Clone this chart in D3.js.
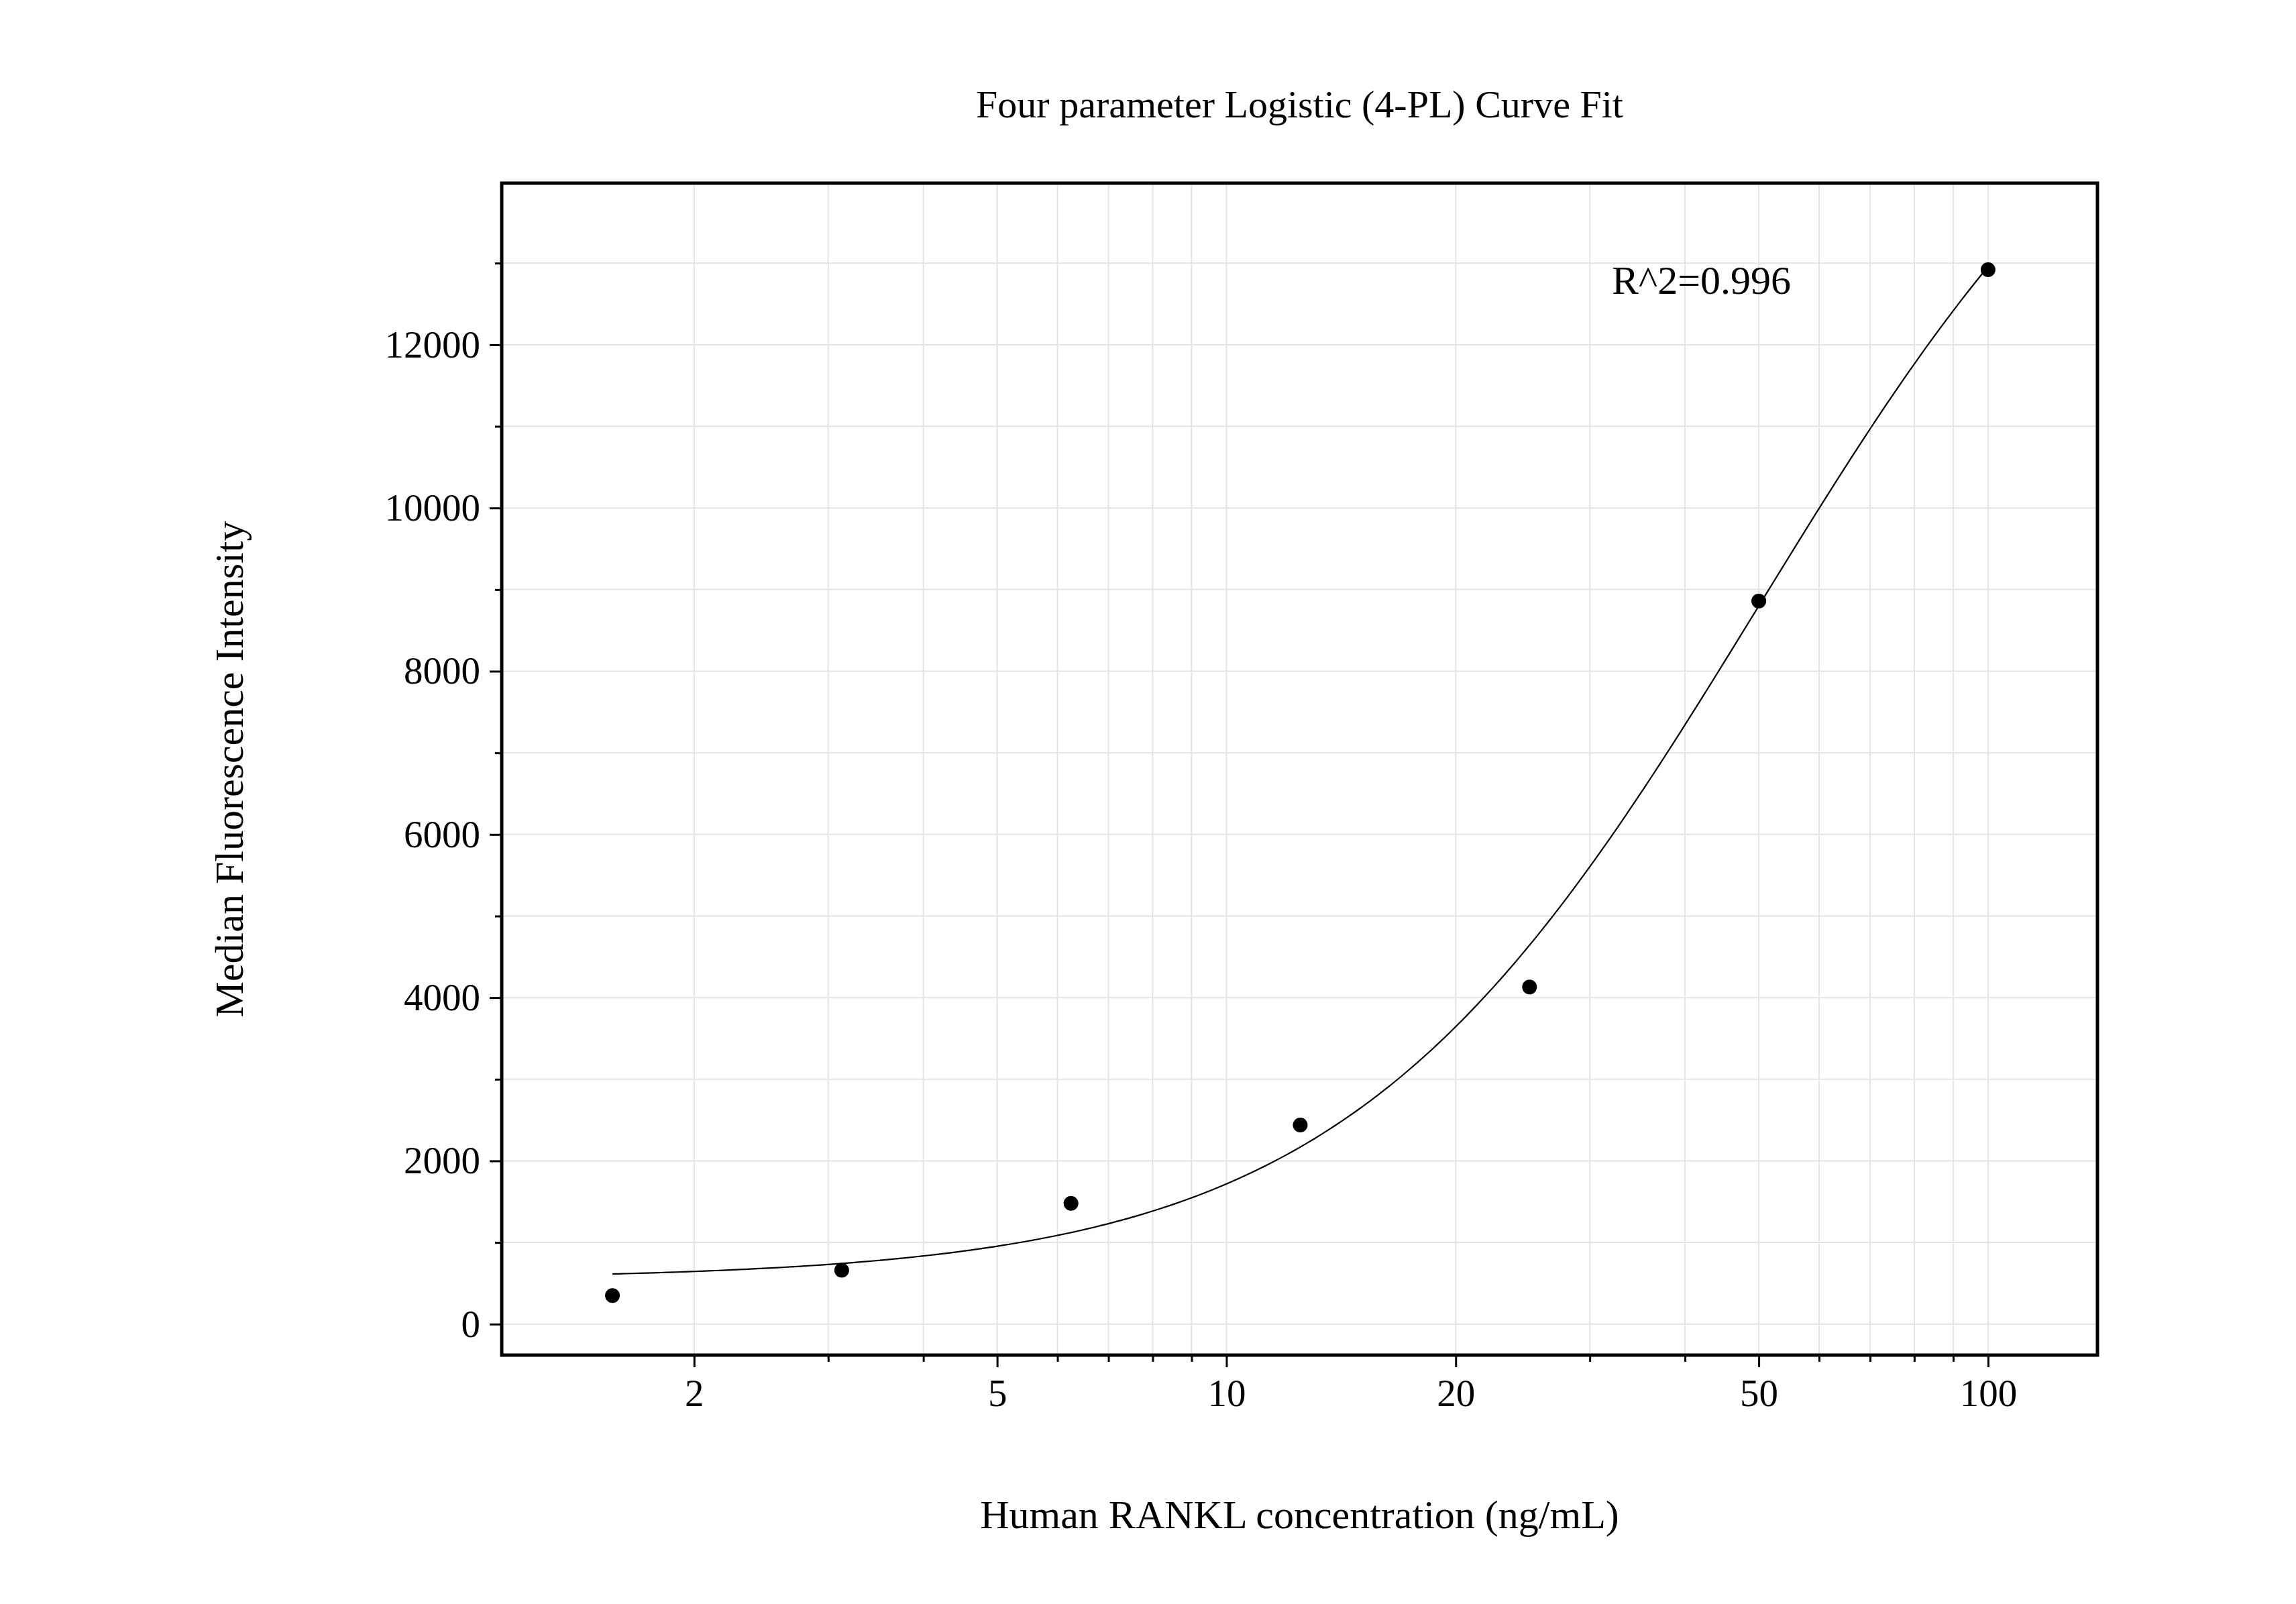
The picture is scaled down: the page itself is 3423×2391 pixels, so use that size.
<!DOCTYPE html>
<html><head><meta charset="utf-8">
<script src="https://cdn.jsdelivr.net/npm/d3@7"></script>
<style>body{margin:0;background:#fff}svg{display:block}text{font-family:"Liberation Serif","Times New Roman",serif;fill:#000}</style>
</head><body>
<script>
const concentrations=[1.5625,3.125,6.25,12.5,25,50,100];
const mfi=[350,660,1480,2440,4130,8860,12920];
const xTicks=[2,5,10,20,50,100];
const yTicks=[0,2000,4000,6000,8000,10000,12000];
const fitParams={A:550,B:1.6,C:50,D:17050};
const W=3423,H=2391,m={l:748,r:3127,t:273,b:2020};
const svg=d3.select("body").append("svg").attr("width",W).attr("height",H);
const x=d3.scaleLog().domain([1.118,139.2]).range([m.l,m.r]);
const y=d3.scaleLinear().domain([-380,13980]).range([m.b,m.t]);
const g=svg.append("g");
// grid
const minorX=[];for(let d=1;d<=100;d*=10)for(let k=1;k<10;k++){const v=k*d;if(v>1.118&&v<139.2)minorX.push(v);}
g.selectAll(".gx").data(minorX).join("line").attr("x1",d=>x(d)).attr("x2",d=>x(d)).attr("y1",m.t).attr("y2",m.b).attr("stroke","#e4e4e4").attr("stroke-width",2);
const minorY=d3.range(0,14000,1000);
g.selectAll(".gy").data(minorY).join("line").attr("y1",d=>y(d)).attr("y2",d=>y(d)).attr("x1",m.l).attr("x2",m.r).attr("stroke","#e4e4e4").attr("stroke-width",2);
// axes
const xa=svg.append("g").attr("transform",`translate(0,${m.b})`).call(d3.axisBottom(x).tickValues(xTicks).tickFormat(d3.format("d")).tickSize(18).tickPadding(18));
const xm=svg.append("g").attr("transform",`translate(0,${m.b})`).call(d3.axisBottom(x).tickValues(minorX.filter(v=>!xTicks.includes(v))).tickFormat("").tickSize(10));
const ya=svg.append("g").attr("transform",`translate(${m.l},0)`).call(d3.axisLeft(y).tickValues(yTicks).tickSize(18).tickPadding(14).tickFormat(d3.format("d")));
const ym=svg.append("g").attr("transform",`translate(${m.l},0)`).call(d3.axisLeft(y).tickValues(minorY.filter(v=>!yTicks.includes(v))).tickFormat("").tickSize(10));
[xa,xm,ya,ym].forEach(a=>{a.select(".domain").remove();a.selectAll("line").attr("stroke","#000").attr("stroke-width",3);a.selectAll("text").style("font-size","57px").style("font-family","Liberation Serif");});
svg.append("rect").attr("x",m.l).attr("y",m.t).attr("width",m.r-m.l).attr("height",m.b-m.t).attr("fill","none").attr("stroke","#000").attr("stroke-width",5);
// fit curve
const f=v=>fitParams.D+(fitParams.A-fitParams.D)/(1+Math.pow(v/fitParams.C,fitParams.B));
const cx=d3.range(0,201).map(i=>Math.exp(Math.log(1.5625)+i/200*(Math.log(100)-Math.log(1.5625))));
svg.append("path").datum(cx).attr("d",d3.line().x(d=>x(d)).y(d=>y(f(d))).curve(d3.curveMonotoneX)).attr("fill","none").attr("stroke","#000").attr("stroke-width",2.2);
svg.selectAll(".pt").data(concentrations).join("circle").attr("cx",d=>x(d)).attr("cy",(d,i)=>y(mfi[i])).attr("r",11).attr("fill","#000");
// texts
svg.append("text").attr("x",(m.l+m.r)/2).attr("y",175).attr("text-anchor","middle").style("font-size","58px").text("Four parameter Logistic (4-PL) Curve Fit");
svg.append("text").attr("x",(m.l+m.r)/2).attr("y",2278).attr("text-anchor","middle").style("font-size","60px").text("Human RANKL concentration (ng/mL)");
svg.append("text").attr("transform",`translate(362,${(m.t+m.b)/2}) rotate(-90)`).attr("text-anchor","middle").style("font-size","60px").text("Median Fluorescence Intensity");
svg.append("text").attr("x",2403).attr("y",438).style("font-size","60px").text("R^2=0.996");
</script>
</body></html>
